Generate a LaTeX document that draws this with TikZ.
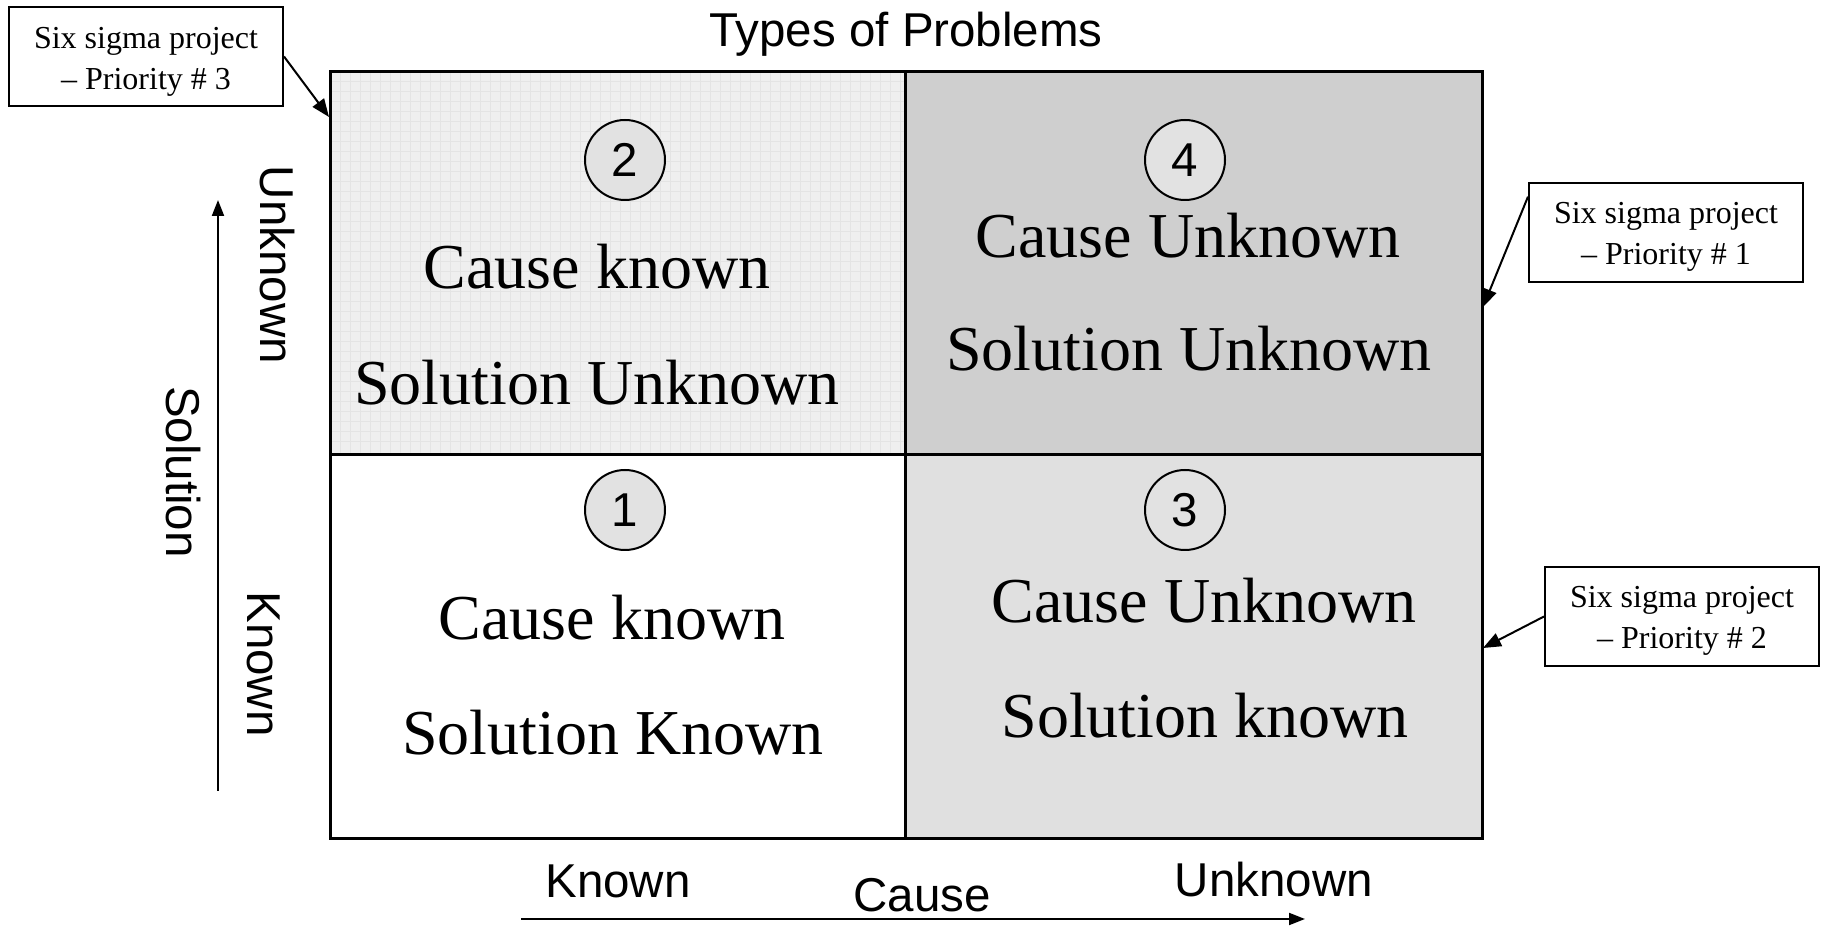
\documentclass[tikz,border=0pt]{standalone}
\usepackage{fontspec}
\setmainfont{Liberation Serif}
\newfontfamily\sansfont{Liberation Sans}
\usetikzlibrary{arrows.meta,calc}
\definecolor{patbg}{HTML}{EFEFEF}
\definecolor{patline}{HTML}{E4E4E4}
\definecolor{darkq}{HTML}{CFCFCF}
\definecolor{midq}{HTML}{E0E0E0}
\definecolor{discfill}{HTML}{E2E2E2}

\begin{document}
\begin{tikzpicture}[x=0.5pt,y=-0.5pt,
  quadtext/.style={font=\fontsize{32}{38}\selectfont, anchor=base, inner sep=0pt},
  numdisc/.style={circle, draw, line width=1pt, fill=discfill, minimum size=40pt,
    inner sep=0pt, font=\sansfont\fontsize{23.75}{28}\selectfont},
  axislabel/.style={font=\sansfont\fontsize{23.75}{28}\selectfont, inner sep=0pt},
  callout/.style={draw, line width=1pt, fill=white, minimum width=137pt,
    minimum height=49.5pt, inner sep=0pt},
  callouttext/.style={align=center, inner sep=0pt,
    font=\fontsize{16}{20.5}\selectfont},
  pointer/.style={line width=1pt, -{Triangle[length=9pt,width=7pt]}},
  axisarrow/.style={line width=1pt, -{Triangle[length=8pt,width=6pt]}}
]
\useasboundingbox (0,0) rectangle (1827,929);

% quadrant fills
\fill[patbg] (330,72) rectangle (905,455);
\foreach \gx in {340,350,...,900} \draw[patline, line width=0.5pt] (\gx,72) -- (\gx,455);
\foreach \gy in {82,92,...,450} \draw[patline, line width=0.5pt] (330,\gy) -- (905,\gy);
\fill[darkq] (905,72) rectangle (1482,455);
\fill[midq] (905,455) rectangle (1482,839);

% outer frame and dividing lines
\draw[line width=1.5pt] (330,72) rectangle (1482,839);
\draw[line width=1.5pt] (905,72) -- (905,839);
\draw[line width=1.5pt] (330,455) -- (1482,455);

% title
\node[axislabel, anchor=base] (title) at (906,47) {Types of Problems};

% numbered discs
\node[numdisc] (n2) at (625,160) {2};
\node[numdisc] (n4) at (1185,160) {4};
\node[numdisc] (n1) at (625,510) {1};
\node[numdisc] (n3) at (1185,510) {3};

% quadrant captions
\node[quadtext] (q2a) at (597,289) {Cause known};
\node[quadtext] (q2b) at (597,405) {Solution Unknown};
\node[quadtext] (q4a) at (1188,258) {Cause Unknown};
\node[quadtext] (q4b) at (1189,371) {Solution Unknown};
\node[quadtext] (q1a) at (612,640) {Cause known};
\node[quadtext] (q1b) at (613,755) {Solution Known};
\node[quadtext] (q3a) at (1204,623) {Cause Unknown};
\node[quadtext] (q3b) at (1205,738) {Solution known};

% vertical axis
\node[axislabel, rotate=-90] (yunk) at (277,265) {Unknown};
\node[axislabel, rotate=-90] (ykn) at (264,664) {Known};
\node[axislabel, rotate=-90] (ysol) at (183,472) {Solution};
\coordinate (ya) at (218,791);
\coordinate (yb) at (218,200);
\draw[axisarrow] (ya) -- (yb);

% horizontal axis
\node[axislabel] (xkn) at (618,881) {Known};
\node[axislabel] (xcause) at (922,895) {Cause};
\node[axislabel] (xunk) at (1274,880) {Unknown};
\coordinate (xa) at (521,919);
\coordinate (xb) at (1305,919);
\draw[axisarrow] (xa) -- (xb);

% priority callouts: frame, then its two-line text
\node[callout] (c3) at (146,56.5) {};
\node[callouttext] (c3t) at ([yshift=-2.5pt]c3.center) {Six sigma project\\ -- Priority \# 3};
\node[callout] (c1) at (1666,233) {};
\node[callouttext] (c1t) at ([yshift=-2pt]c1.center) {Six sigma project\\ -- Priority \# 1};
\node[callout] (c2) at (1682,616.5) {};
\node[callouttext] (c2t) at ([yshift=-2pt]c2.center) {Six sigma project\\ -- Priority \# 2};
\coordinate (t3) at (329,117);
\coordinate (t1) at (1483,307);
\coordinate (t2) at (1483,648);
\draw[pointer] (c3.east) -- (t3);
\draw[pointer] ($(c1.north west)!0.14!(c1.south west)$) -- (t1);
\draw[pointer] (c2.west) -- (t2);
\end{tikzpicture}
\end{document}
